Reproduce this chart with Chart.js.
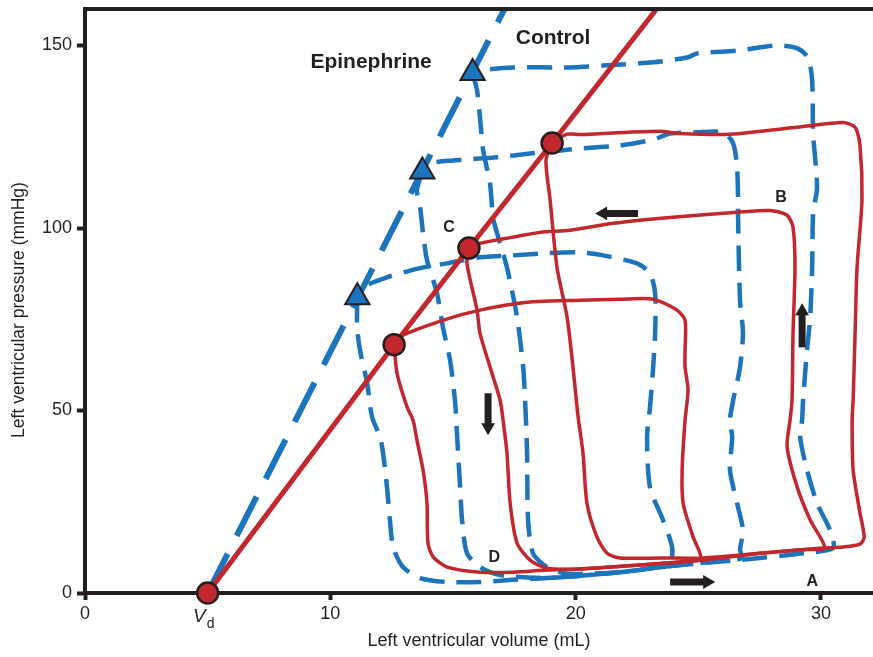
<!DOCTYPE html>
<html>
<head>
<meta charset="utf-8">
<script src="https://cdn.jsdelivr.net/npm/chart.js@4.4.1/dist/chart.umd.min.js"></script>
<style>
  html, body { margin: 0; padding: 0; background: #ffffff; }
  #wrap { width: 873px; height: 657px; }
</style>
</head>
<body>
<div id="wrap"><canvas id="pv" width="873" height="657"></canvas></div>
<script>
// Axis ticks
const xTicks = [0, 10, 20, 30];
const yTicks = [0, 50, 100, 150];
const vdVolume = 5;

// End-systolic points [volume mL, pressure mmHg]
const controlPoints = [[5, 0], [12.6, 68.0], [15.65, 94.5], [19.04, 123.3]];
const epiPoints = [[11.1, 81.0], [13.75, 115.5], [15.8, 142.5]];

// End-systolic pressure-volume relations
const controlEspvr = [[5, 0], [12.6, 68.0], [15.65, 94.5], [19.04, 123.3], [23.3, 160]];
const epiEspvr = [[5, 0], [17.1, 160]];

// Control pressure-volume loops
const controlLoopLow = [
  [12.6, 68.0], [12.72, 60.2], [13.13, 50.9], [13.37, 47.4], [13.53, 41.9], [13.78, 33.7],
  [13.94, 24.6], [13.98, 13.7], [14.19, 9.9], [14.76, 7.1], [16.10, 5.7], [17.45, 5.7],
  [18.83, 6.3], [20.18, 6.6], [22.63, 7.7], [24.5, 8.7], [25.1, 9.6], [24.79, 15.3],
  [24.38, 24.6], [24.34, 33.7], [24.46, 47.4], [24.58, 55.6], [24.46, 61.9], [24.46, 66.5],
  [24.46, 74.7], [24.13, 77.5], [23.16, 80.5], [21.81, 80.5], [20.18, 80.2], [18.14, 79.7],
  [16.10, 77.5], [14.59, 74.7], [12.96, 70.6], [12.6, 68.0]
];
const controlLoopMid = [
  [15.65, 94.5], [15.57, 90.3], [15.98, 77.5], [16.10, 71.2], [16.51, 61.9], [16.92, 52.8],
  [17.04, 47.4], [17.20, 38.3], [17.33, 24.6], [17.61, 13.7], [18.14, 9.0], [18.83, 6.8],
  [20.18, 6.6], [22.63, 7.7], [25.19, 9.0], [27.52, 10.9], [29.4, 11.9], [30.15, 12.4],
  [29.56, 20.0], [29.03, 29.0], [28.62, 40.0], [28.74, 47.4], [28.82, 52.8], [28.86, 71.2],
  [28.94, 89.2], [28.86, 100.2], [28.62, 103.5], [27.93, 104.8], [26.58, 104.3], [23.85, 102.9],
  [21.52, 101.3], [19.77, 99.4], [18.55, 98.8], [17.45, 97.5], [16.10, 95.8], [15.65, 94.5]
];
const controlLoopHigh = [
  [19.04, 123.3], [18.79, 118.5], [18.96, 107.6], [19.24, 89.2], [19.65, 75.6], [19.89, 61.9],
  [20.10, 48.2], [20.30, 38.3], [20.46, 24.6], [20.87, 15.3], [21.28, 10.9], [21.81, 9.6],
  [23.5, 9.6], [25.19, 9.6], [27.52, 10.9], [30.09, 12.3], [30.9, 12.6], [31.59, 13.4],
  [31.76, 15.3], [31.59, 21.9], [31.31, 33.7], [31.27, 47.4], [31.31, 52.8], [31.39, 71.2],
  [31.47, 89.2], [31.67, 107.6], [31.59, 122.6], [31.39, 127.6], [30.90, 128.9], [29.27, 127.8],
  [26.29, 125.7], [24.26, 125.9], [23.44, 126.5], [21.12, 125.9], [20.18, 125.6], [19.65, 125.7],
  [19.04, 123.3]
];

// Epinephrine pressure-volume loops
const epiLoopLow = [
  [11.1, 81.0], [11.09, 72.8], [11.21, 66.5], [11.50, 57.5], [11.70, 48.2], [12.03, 42.7],
  [12.15, 38.3], [12.31, 29.0], [12.43, 20.0], [12.56, 12.6], [12.96, 7.1], [13.66, 4.1],
  [14.76, 3.0], [16.10, 3.0], [17.45, 3.6], [18.83, 4.1], [20.18, 4.7], [21.81, 5.7],
  [23.2, 6.9], [23.85, 7.6], [23.93, 12.6], [23.56, 20.0], [23.03, 29.0], [22.91, 42.7],
  [23.03, 50.9], [23.16, 61.9], [23.24, 71.2], [23.24, 82.1], [23.03, 87.6], [22.50, 90.3],
  [21.12, 92.5], [20.18, 93.3], [18.83, 93.1], [17.45, 92.5], [16.10, 92.0], [14.76, 90.3],
  [13.66, 89.0], [12.31, 86.5], [11.33, 83.8], [11.1, 81.0]
];
const epiLoopMid = [
  [13.75, 115.5], [13.53, 110.3], [13.66, 105.7], [13.78, 98.5], [13.94, 91.2], [14.35, 82.1],
  [14.59, 72.8], [14.88, 63.8], [15.08, 52.8], [15.17, 42.7], [15.29, 29.0], [15.37, 20.0],
  [15.57, 10.9], [16.10, 7.1], [16.92, 4.9], [18.83, 4.1], [20.18, 4.7], [21.81, 5.7],
  [23.85, 7.4], [25.89, 8.8], [26.78, 9.6], [26.70, 11.8], [26.82, 17.2], [26.58, 24.6],
  [26.29, 33.7], [26.38, 42.7], [26.29, 47.4], [26.42, 52.8], [26.70, 61.9], [26.82, 71.2],
  [26.70, 80.2], [26.62, 102.9], [26.62, 107.6], [26.58, 116.6], [26.42, 123.2], [26.01, 126.2],
  [24.95, 126.2], [23.85, 125.9], [23.16, 124.2], [21.81, 122.6], [20.18, 121.8], [19.49, 121.3],
  [18.14, 120.4], [16.80, 119.4], [15.00, 118.5], [14.06, 117.7], [13.75, 115.5]
];
const epiLoopHigh = [
  [15.8, 142.5], [15.98, 137.7], [16.10, 130.3], [16.23, 121.3], [16.51, 112.2], [16.63, 102.9],
  [16.80, 98.5], [17.20, 89.2], [17.61, 75.6], [17.86, 61.9], [17.94, 52.8], [18.02, 38.3],
  [18.06, 20.0], [18.26, 10.9], [18.83, 7.1], [19.65, 5.3], [21.81, 5.7], [23.85, 7.4],
  [26.58, 9.0], [29.27, 10.9], [30.49, 12.3], [30.37, 17.2], [29.84, 24.6], [29.43, 33.7],
  [29.15, 42.7], [29.23, 47.4], [29.27, 52.8], [29.43, 66.5], [29.56, 75.6], [29.64, 89.2],
  [29.68, 104.0], [29.84, 111.1], [29.68, 125.9], [29.64, 140.4], [29.47, 146.7], [29.03, 149.2],
  [28.21, 150.0], [26.58, 148.6], [24.95, 147.8], [24.54, 146.7], [23.16, 145.4], [21.12, 144.5],
  [19.77, 144.0], [17.45, 144.0], [16.10, 143.2], [15.8, 142.5]
];

// Direction arrows: shaft start, arrowhead centre
const arrowLeft = [[22.54, 104.0], [21.12, 104.0]];
const arrowUp = [[29.23, 67.3], [29.23, 77.2]];
const arrowDown = [[16.43, 54.7], [16.43, 45.4]];
const arrowRight = [[23.85, 3.0], [25.36, 3.0]];

// Text placed in the plot
const plotLabels = [
  { text: 'Control', x: 19.08, y: 151.9, big: true },
  { text: 'Epinephrine', x: 11.66, y: 145.4, big: true },
  { text: 'A', x: 29.64, y: 3.0 },
  { text: 'B', x: 28.37, y: 108.4 },
  { text: 'C', x: 14.84, y: 100.2 },
  { text: 'D', x: 16.68, y: 9.6 }
];
const yTitle = 'Left ventricular pressure (mmHg)';
const xTitle = 'Left ventricular volume (mL)';

const RED = '#c1272d';
const BLUE = '#1c75bc';
const INK = '#231f20';
const FAMILY = '"Liberation Sans", Arial, Helvetica, sans-serif';

const toXY = arr => arr.map(([x, y]) => ({ x, y }));

function loop(data, color, dashed) {
  return {
    data: toXY(data),
    showLine: true,
    borderColor: color,
    borderWidth: dashed ? 4.5 : 3.5,
    borderDash: dashed ? [25, 12] : [],
    pointRadius: 0,
    tension: 0.25,
    fill: false,
    order: dashed ? 5 : 4
  };
}

function arrow(data, heading) {
  return {
    data: toXY(data),
    showLine: true,
    borderColor: INK,
    borderWidth: 7,
    tension: 0,
    pointRadius: [0, 8],
    pointStyle: 'triangle',
    pointRotation: heading,
    pointBackgroundColor: INK,
    pointBorderWidth: 0,
    order: 0
  };
}

// keep the plot area flush with the layout padding
function noScalePadding(s) {
  s.paddingTop = 0;
  s.paddingBottom = 0;
  s.paddingLeft = 0;
  s.paddingRight = 0;
}

const decorations = {
  id: 'decorations',
  afterDraw(chart) {
    const { ctx, chartArea, scales: { x, y } } = chart;
    ctx.save();
    // top frame line
    ctx.strokeStyle = INK;
    ctx.lineWidth = 4;
    ctx.beginPath();
    ctx.moveTo(chartArea.left - 2, chartArea.top);
    ctx.lineTo(chartArea.right, chartArea.top);
    ctx.stroke();

    ctx.fillStyle = INK;

    // pressure axis title, a little below the plot centre
    ctx.save();
    ctx.translate(19, (chartArea.top + chartArea.bottom) / 2 + 9);
    ctx.rotate(-Math.PI / 2);
    ctx.font = '17.5px ' + FAMILY;
    ctx.textAlign = 'center';
    ctx.textBaseline = 'middle';
    ctx.fillText(yTitle, 0, 0);
    ctx.restore();

    // V_d under the volume axis
    const vx = x.getPixelForValue(vdVolume);
    ctx.textBaseline = 'alphabetic';
    ctx.font = 'italic 19px ' + FAMILY;
    ctx.textAlign = 'right';
    ctx.fillText('V', vx - 2, 622);
    ctx.font = '14px ' + FAMILY;
    ctx.textAlign = 'left';
    ctx.fillText('d', vx - 1, 628);

    // labels inside the plot
    ctx.textAlign = 'center';
    ctx.textBaseline = 'middle';
    plotLabels.forEach(l => {
      ctx.font = (l.big ? 'bold 21px ' : 'bold 16px ') + FAMILY;
      ctx.fillText(l.text, x.getPixelForValue(l.x), y.getPixelForValue(l.y));
    });
    ctx.restore();
  }
};

new Chart(document.getElementById('pv'), {
  type: 'scatter',
  data: {
    datasets: [
      { data: toXY(controlPoints), pointRadius: 10.5, pointStyle: 'circle',
        pointBackgroundColor: RED, pointBorderColor: INK, pointBorderWidth: 2.5,
        clip: false, order: 0 },
      { data: toXY(epiPoints), pointRadius: 14, pointStyle: 'triangle',
        pointBackgroundColor: BLUE, pointBorderColor: INK, pointBorderWidth: 2,
        clip: false, order: 0 },
      arrow(arrowLeft, 270),
      arrow(arrowUp, 0),
      arrow(arrowDown, 180),
      arrow(arrowRight, 90),
      { data: toXY(controlEspvr), showLine: true, borderColor: RED, borderWidth: 5,
        pointRadius: 0, tension: 0, order: 2 },
      { data: toXY(epiEspvr), showLine: true, borderColor: BLUE, borderWidth: 6,
        borderDash: [44, 20], pointRadius: 0, tension: 0, order: 3 },
      loop(controlLoopLow, RED, false),
      loop(controlLoopMid, RED, false),
      loop(controlLoopHigh, RED, false),
      loop(epiLoopLow, BLUE, true),
      loop(epiLoopMid, BLUE, true),
      loop(epiLoopHigh, BLUE, true)
    ]
  },
  options: {
    responsive: false,
    animation: false,
    devicePixelRatio: 1,
    events: [],
    layout: { autoPadding: false, padding: { top: 9, right: 0, bottom: 0, left: 0 } },
    plugins: { legend: { display: false }, tooltip: { enabled: false } },
    scales: {
      x: {
        type: 'linear',
        min: 0,
        max: 32.12,
        afterBuildTicks: s => { s.ticks = xTicks.map(v => ({ value: v })); },
        afterFit: s => { s.height = 64; noScalePadding(s); },
        ticks: { color: INK, font: { family: FAMILY, size: 18 }, padding: 3, maxRotation: 0, autoSkip: false },
        grid: { drawOnChartArea: false, drawTicks: true, tickLength: 7, tickWidth: 4, tickColor: INK },
        border: { display: true, color: INK, width: 4 },
        title: { display: true, text: xTitle, color: INK,
                 font: { family: FAMILY, size: 18 }, padding: { top: 0, bottom: 5 } }
      },
      y: {
        type: 'linear',
        min: 0,
        max: 160,
        afterBuildTicks: s => { s.ticks = yTicks.map(v => ({ value: v })); },
        afterFit: s => { s.width = 85; noScalePadding(s); },
        ticks: { color: INK, font: { family: FAMILY, size: 18 }, padding: 5 },
        grid: { drawOnChartArea: false, drawTicks: true, tickLength: 8, tickWidth: 4, tickColor: INK },
        border: { display: true, color: INK, width: 4 },
        title: { display: false }
      }
    }
  },
  plugins: [decorations]
});
</script>
</body>
</html>
